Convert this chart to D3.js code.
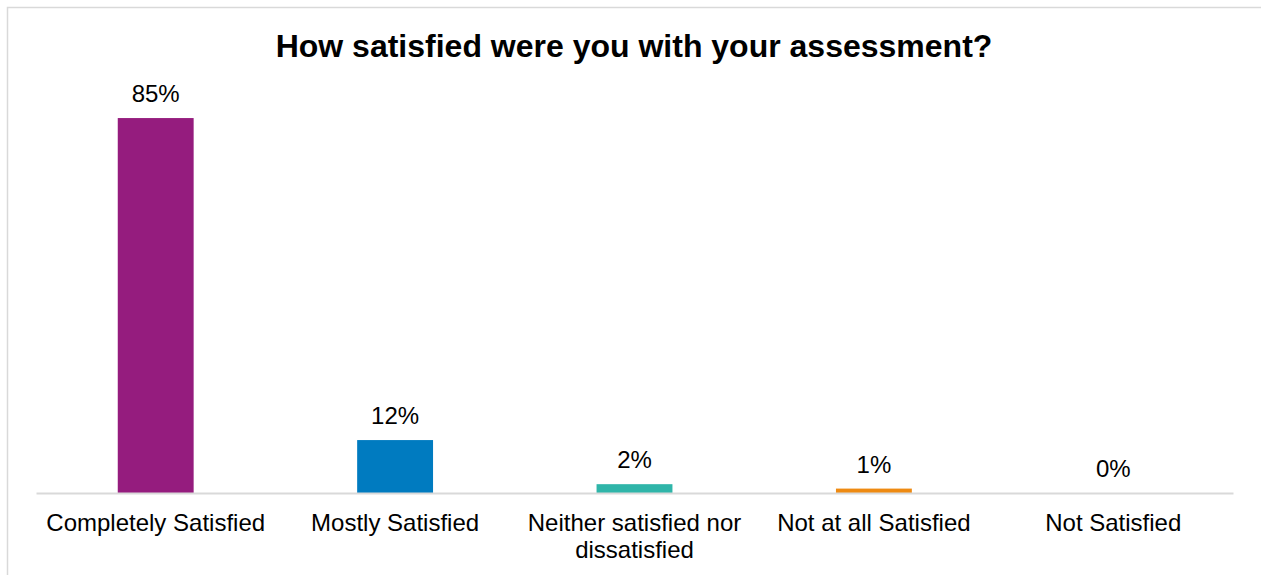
<!DOCTYPE html>
<html>
<head>
<meta charset="utf-8">
<script src="https://cdn.jsdelivr.net/npm/d3@7"></script>
<style>
  html, body { margin: 0; padding: 0; background: #fff; }
  svg { display: block; font-family: "Liberation Sans", Arial, sans-serif; }
</style>
</head>
<body>
<svg id="chart" width="1261" height="575"></svg>
<script>
// Survey responses: share of respondents per satisfaction level
const categories = [
  ["Completely Satisfied"],
  ["Mostly Satisfied"],
  ["Neither satisfied nor", "dissatisfied"],
  ["Not at all Satisfied"],
  ["Not Satisfied"]
];
const values = [85, 12, 2, 1, 0];
const barColors = ["#951c7e", "#007bc0", "#2fb5a9", "#ee8a12", "#999999"];
const title = "How satisfied were you with your assessment?";

const W = 1261, H = 575;
const svg = d3.select("#chart");

// outer frame
svg.append("rect")
  .attr("x", 7.5).attr("y", 7.5)
  .attr("width", W + 10).attr("height", H + 10)
  .attr("fill", "none").attr("stroke", "#d9d9d9").attr("stroke-width", 1.5);

const plot = { left: 36, right: 1233, top: 96, bottom: 493 };

const x = d3.scaleBand()
  .domain(d3.range(values.length))
  .range([plot.left, plot.right])
  .paddingInner(0.683).paddingOuter(0.3415);

const y = d3.scaleLinear().domain([0, 90]).range([plot.bottom, plot.top]);

svg.append("text")
  .attr("x", 634).attr("y", 57)
  .attr("text-anchor", "middle")
  .attr("font-weight", "bold").attr("font-size", 32)
  .attr("fill", "#000")
  .text(title);

svg.append("g").selectAll("rect")
  .data(values)
  .join("rect")
  .attr("x", (d, i) => x(i))
  .attr("width", x.bandwidth())
  .attr("y", d => y(d))
  .attr("height", d => y(0) - y(d))
  .attr("fill", (d, i) => barColors[i]);

// baseline axis
const axis = d3.axisBottom(x).tickSize(0).tickFormat(() => "");
const gx = svg.append("g").attr("transform", `translate(0,${plot.bottom})`).call(axis);
gx.select(".domain").attr("stroke", "#d9d9d9").attr("stroke-width", 2);

// category labels
const cat = svg.append("g").selectAll("text")
  .data(categories)
  .join("text")
  .attr("x", (d, i) => x(i) + x.bandwidth() / 2)
  .attr("y", 531)
  .attr("text-anchor", "middle")
  .attr("font-size", 24)
  .attr("fill", "#000");
cat.selectAll("tspan")
  .data(d => d)
  .join("tspan")
  .attr("x", function () { return d3.select(this.parentNode).attr("x"); })
  .attr("dy", (d, j) => j === 0 ? 0 : 27)
  .text(d => d);

// value labels
svg.append("g").selectAll("text")
  .data(values)
  .join("text")
  .attr("x", (d, i) => x(i) + x.bandwidth() / 2)
  .attr("y", d => y(d) - 16)
  .attr("text-anchor", "middle")
  .attr("font-size", 24)
  .attr("fill", "#000")
  .text(d => d + "%");
</script>
</body>
</html>
